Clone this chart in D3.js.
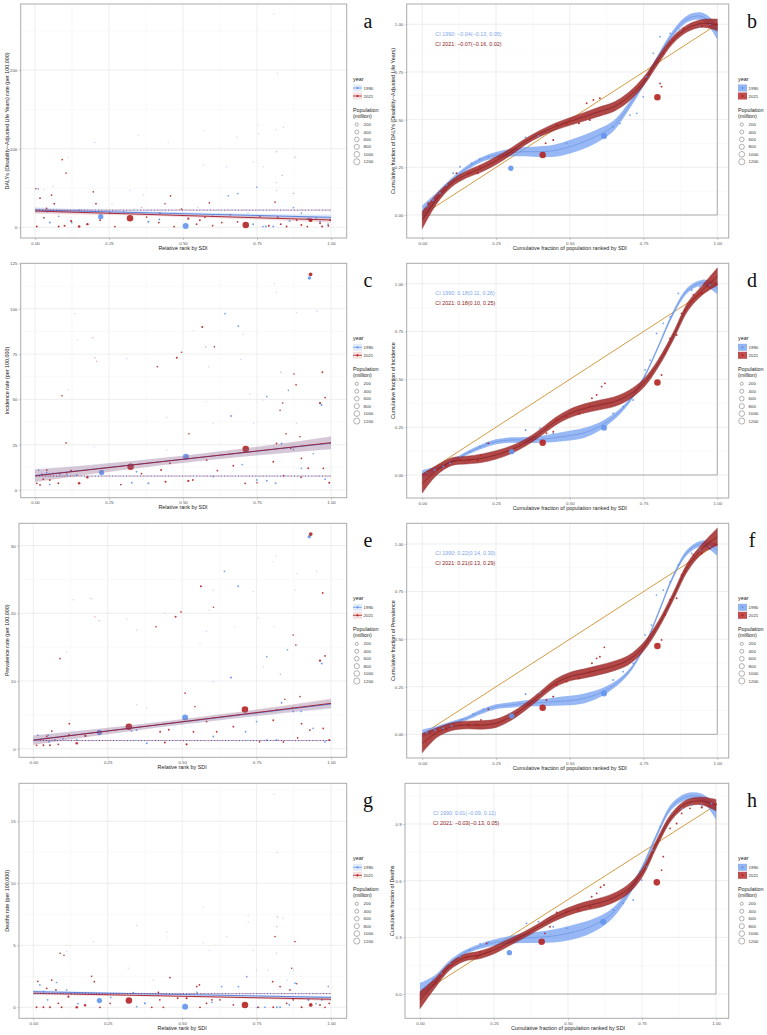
<!DOCTYPE html>
<html><head><meta charset="utf-8">
<script src="https://cdn.jsdelivr.net/npm/d3@7"></script>
<style>body{margin:0;background:#fff}svg{display:block}</style>
</head><body>
<svg id="c" width="767" height="1035"></svg>
<script>
// ---------------- DATA ----------------
const years = ["1990", "2021"];
const popLegend = [200, 400, 600, 800, 1000, 1200];
const rankTicks = [0, 0.25, 0.5, 0.75, 1];
const dalyTicks = [0, 100, 200];
const incTicks = [0, 25, 50, 75, 100, 125];
const prevTicks = [0, 10, 20, 30];
const deathTicks = [0, 5, 10, 15];
const concTicks = [0, 0.25, 0.5, 0.75, 1];
const concTicksH = [0, 0.3, 0.6, 0.9];

// [relative rank, rate, population (million)]
const dalys1990 = [[0.222,13.5,870],[0.509,1.7,1150],[0.011,49,20],[0.05,6,40],[0.124,6,30],[0.383,7,60],[0.685,43,20],[0.749,51,15],[0.755,130,5],[0.755,119,5],[0.816,57,10],[0.816,47,10],[0.813,124,5],[0.805,1,30],[0.78,1,25],[0.77,1,20],[0.923,11,60],[0.963,7,40],[0.99,4,20],[0.873,25,15],[0.737,4,40],[0.653,40,15],[0.366,41,10],[0.32,47,8],[0.203,108,5],[0.349,117,5],[0.45,108,5],[0.574,123,5],[0.681,115,5],[0.839,127,5],[0.113,89,5],[0.569,79,5],[0.647,77,5],[0.737,83,5],[0.771,77,5],[0.807,271,5],[0.819,196,5],[0.04,20,30],[0.08,14,20],[0.15,22,15],[0.26,30,10],[0.3,20,15],[0.42,10,30],[0.55,25,10],[0.6,14,20],[0.72,18,10],[0.86,8,30],[0.9,18,15],[0.95,12,20],[0.03,48,8],[0.06,52,8]];
const dalys2021 = [[0.321,11.4,1400],[0.712,3,1420],[0.092,86,15],[0.105,69,15],[0.056,41,20],[0.197,45,15],[0.206,30,20],[0.458,40,20],[0.418,6,30],[0.574,13,25],[0.589,31,15],[0.557,9,30],[0.811,32,15],[0.816,96,10],[0.82,13,30],[0.878,89,10],[0.873,43,10],[0.931,9,330],[0.149,1,100],[0.177,4,80],[0.122,8,60],[0.065,30,20],[0.039,24,25],[0.006,1,30],[0.003,49,15],[0.017,37,20],[0.495,23,20],[0.518,11,60],[0.546,4,25],[0.631,6,25],[0.684,7,25],[0.884,9,20],[0.9,3,30],[0.963,5,30],[0.991,2,25],[0.997,9,20],[0.377,13,20],[0.422,18,15],[0.439,30,15],[0.22,9,20],[0.253,18,15],[0.1,2,40],[0.03,12,30],[0.08,1,30],[0.27,1,20],[0.47,1,20],[0.6,2,20],[0.79,2,40],[0.83,4,30],[0.85,1,25],[0.92,1,20],[0.97,1,40],[0.76,14,15],[0.66,16,15],[0.36,25,10],[0.835,66,8]];
const inc1990 = [[0.225,9.7,870],[0.51,18.4,1150],[0.927,117,250],[0.642,97.4,20],[0.687,90.4,25],[0.662,40.8,40],[0.968,46.9,40],[0.952,98.7,10],[0.783,51.5,15],[0.856,55,15],[0.833,25.7,40],[0.873,22.4,20],[0.383,3.7,50],[0.343,10.1,30],[0.327,4,30],[0.602,7.4,30],[0.749,5.5,30],[0.783,5.1,30],[0.813,3.7,30],[0.012,11,20],[0.023,8.8,30],[0.039,9.6,30],[0.062,9.2,30],[0.084,8.8,25],[0.107,8.8,25],[0.141,8.3,25],[0.135,97.4,5],[0.144,83,5],[0.31,72.6,5],[0.417,68,5],[0.535,88,5],[0.586,68,5],[0.704,86,5],[0.726,53,5],[0.771,49.6,5],[0.809,114,5],[0.816,109,5],[0.884,98,5],[0.695,72,5],[0.578,48.7,5],[0.445,40,5],[0.113,55.5,5],[0.2,24,5],[0.445,22,5],[0.602,36.8,5],[0.738,36.8,5],[0.884,36.8,5],[0.9,12,20],[0.94,20,15],[0.98,6,20],[0.7,14,15],[0.05,3,20]];
const inc2021 = [[0.323,12.9,1400],[0.712,22.6,1420],[0.931,119,330],[0.565,90,40],[0.479,73,40],[0.495,76,15],[0.091,52,15],[0.105,26,15],[0.195,84,10],[0.203,73,10],[0.208,71,10],[0.413,68,15],[0.606,79,15],[0.577,79,10],[0.963,48,60],[0.971,65,25],[0.98,51,20],[0.875,64,15],[0.882,58,15],[0.837,48,15],[0.828,44,15],[0.848,31,15],[0.518,5,60],[0.149,3.7,100],[0.177,7,80],[0.122,10.5,60],[0.441,4.6,40],[0.426,11,30],[0.456,14.7,30],[0.533,5.5,25],[0.58,16.5,30],[0.616,10.7,25],[0.67,13.4,25],[0.71,3.7,25],[0.805,15.6,25],[0.816,25.7,20],[0.864,23,20],[0.895,29.4,15],[0.9,17.5,20],[0.923,12,30],[0.974,12,20],[0.994,4,40],[0.899,7,25],[0.006,3.7,20],[0.028,6,30],[0.05,5.5,30],[0.079,3.7,30],[0.017,2.8,25],[0.04,11,25],[0.29,3,20],[0.36,9,20],[0.52,31,15],[0.83,65,10],[0.84,8,20],[0.75,4,15]];
const prev1990 = [[0.222,2.4,870],[0.51,4.6,1150],[0.927,31.3,250],[0.642,26.2,20],[0.688,24,25],[0.664,10.5,40],[0.969,12.6,40],[0.952,26.2,10],[0.784,13.6,15],[0.854,14.6,15],[0.834,6.8,40],[0.873,5.5,20],[0.381,0.8,50],[0.347,2.75,30],[0.33,2.6,30],[0.605,1.8,30],[0.713,2.5,30],[0.75,4,25],[0.784,1.3,30],[0.817,1.3,30],[0.015,2,20],[0.05,2,30],[0.073,1.3,30],[0.1,1.5,25],[0.146,1.3,25],[0.053,1,25],[0.134,22,5],[0.112,14.3,5],[0.314,19.1,5],[0.347,17.5,5],[0.442,20,5],[0.582,17.3,5],[0.591,20.5,5],[0.677,18,5],[0.739,23.2,5],[0.756,19.3,5],[0.773,12.1,5],[0.806,27.6,5],[0.817,28.5,5],[0.81,18,5],[0.885,25.9,5],[0.879,23.4,5],[0.605,23.4,5],[0.56,15.6,5],[0.347,6.5,5],[0.381,6,5],[0.605,9.9,5],[0.9,5.5,20],[0.94,3,15],[0.98,1,20]];
const prev2021 = [[0.321,3.25,1400],[0.711,5.8,1420],[0.932,31.7,330],[0.563,24,40],[0.478,19.5,40],[0.496,20.2,15],[0.09,13.3,15],[0.194,22.2,10],[0.207,19.5,10],[0.221,18.9,10],[0.412,18,15],[0.605,20.9,15],[0.963,13,60],[0.972,23,25],[0.98,13.7,20],[0.873,16.8,15],[0.882,15.3,15],[0.845,7.3,15],[0.515,0.64,60],[0.146,0.8,100],[0.175,1.9,80],[0.12,2,60],[0.442,0.9,40],[0.426,2.5,30],[0.455,2.8,30],[0.538,2.5,25],[0.582,4,30],[0.616,2.5,25],[0.672,3.25,25],[0.806,4.2,25],[0.817,5.7,20],[0.87,6,20],[0.896,7.7,15],[0.901,3.7,20],[0.929,2.75,30],[0.974,3,20],[0.994,1.3,40],[0.888,1.6,25],[0.011,0.5,20],[0.034,0.5,30],[0.056,0.5,30],[0.084,0.64,30],[0.045,1.8,25],[0.062,2.6,25],[0.121,3.7,20],[0.51,8.2,15],[0.543,6.2,15],[0.83,11,10],[0.84,1,20],[0.76,1,15]];
const deaths1990 = [[0.222,0.54,870],[0.51,0.05,1150],[0.048,0.6,30],[0.078,2,20],[0.112,1.4,20],[0.022,1.8,20],[0.034,1.26,25],[0.375,0.32,50],[0.336,1.18,30],[0.717,2.47,20],[0.689,1.67,20],[0.633,1.67,20],[0.818,0,30],[0.829,0,30],[0.778,0,25],[0.753,0,25],[0.924,0.6,60],[0.879,1.94,20],[0.969,0.6,40],[0.991,1.67,15],[0.789,3,10],[0.817,4.35,10],[0.808,17.2,5],[0.82,12.5,5],[0.202,5.3,5],[0.112,4.5,5],[0.319,3.15,5],[0.347,6.6,5],[0.448,6.1,5],[0.448,5.6,5],[0.571,8.1,5],[0.571,5.2,5],[0.593,4.6,5],[0.65,5.7,5],[0.722,7.4,5],[0.722,6.9,5],[0.739,4.6,5],[0.75,3,5],[0.84,7.2,5],[0.853,2.2,10],[0.873,3,10],[0.347,0.05,20],[0.403,2.2,10],[0.15,0.3,30],[0.26,0.8,20],[0.55,1.2,20],[0.6,0.4,25],[0.86,0.2,30],[0.95,0.3,20]];
const deaths2021 = [[0.321,0.54,1400],[0.711,0.19,1420],[0.09,4.35,15],[0.103,4.2,15],[0.205,2.07,20],[0.196,2.5,15],[0.459,2.4,25],[0.42,1.2,20],[0.425,0.6,25],[0.485,0.73,30],[0.515,0.73,60],[0.549,1.67,20],[0.558,1.8,20],[0.6,0.6,25],[0.812,5.7,15],[0.818,6.5,10],[0.879,5.3,15],[0.82,7.3,8],[0.804,2.07,20],[0.868,3.15,15],[0.932,0.19,330],[0.146,0,100],[0.174,0.16,80],[0.118,0.86,60],[0.015,2.1,20],[0.045,1.53,25],[0.062,2.2,20],[0.076,1.4,25],[0.084,0.32,30],[0.011,0,30],[0.034,0,30],[0.056,0,30],[0.095,0,30],[0.224,0,25],[0.258,0.32,20],[0.398,0,25],[0.437,0,25],[0.56,0,25],[0.582,0.32,25],[0.627,0.6,20],[0.672,0.2,25],[0.756,0,20],[0.806,0,30],[0.851,0.32,30],[0.873,0.6,25],[0.901,0,30],[0.963,0.19,30],[0.994,0.32,30],[0.98,0,20],[0.829,1.67,20],[0.862,1.4,20],[0.885,1.9,15]];

// regression fits: [value at rank 0, value at rank 1, CI half-width at ends, CI half-width at middle]
const dalysFit1990 = [22, 12.7, 3.5, 1.8], dalysFit2021 = [20.7, 9.3, 3.5, 1.8], dalysRef = 21.9;
const incFit1990 = [8.0, 25.9, 3.5, 2.0], incFit2021 = [7.8, 26.1, 3.5, 2.0], incRef = 7.7;
const prevFit1990 = [1.3, 6.6, 0.7, 0.4], prevFit2021 = [1.25, 6.7, 0.7, 0.4], prevRef = 1.2;
const deathsFit1990 = [1.26, 0.8, 0.12, 0.06], deathsFit2021 = [1.13, 0.65, 0.14, 0.07], deathsRef = 1.1;

// concentration curves: fitted values at concX
const concX = [0,0.05,0.1,0.15,0.2,0.25,0.3,0.35,0.4,0.45,0.5,0.55,0.6,0.65,0.7,0.75,0.8,0.85,0.9,0.95,1];
const dalysCurve1990 = [0.01,0.096,0.18,0.245,0.29,0.315,0.327,0.332,0.332,0.338,0.358,0.385,0.42,0.47,0.57,0.69,0.83,0.953,1.03,1.04,0.96];
const dalysBand1990 = [0.04,0.025,0.015,0.012,0.013,0.016,0.02,0.024,0.028,0.032,0.035,0.036,0.033,0.027,0.02,0.015,0.014,0.016,0.018,0.02,0.04];
const dalysCurve2021 = [-0.026,0.087,0.166,0.213,0.245,0.285,0.332,0.385,0.428,0.463,0.49,0.516,0.542,0.568,0.62,0.7,0.813,0.918,0.98,1.005,0.997];
const dalysBand2021 = [0.045,0.025,0.018,0.018,0.02,0.02,0.018,0.016,0.016,0.018,0.02,0.022,0.024,0.024,0.024,0.022,0.02,0.018,0.018,0.02,0.03];
const incCurve1990 = [0.005,0.035,0.07,0.113,0.148,0.174,0.183,0.183,0.186,0.195,0.206,0.221,0.253,0.305,0.383,0.505,0.671,0.845,0.967,1.005,0.976];
const incBand1990 = [0.02,0.012,0.01,0.01,0.012,0.013,0.014,0.016,0.018,0.022,0.025,0.026,0.022,0.016,0.012,0.01,0.01,0.012,0.014,0.016,0.03];
const incCurve2021 = [-0.044,0.026,0.07,0.078,0.087,0.105,0.131,0.169,0.221,0.279,0.322,0.348,0.366,0.383,0.418,0.479,0.584,0.723,0.88,0.967,1.037];
const incBand2021 = [0.05,0.025,0.02,0.02,0.022,0.022,0.02,0.018,0.018,0.02,0.022,0.024,0.025,0.025,0.024,0.022,0.02,0.02,0.022,0.025,0.045];
const prevCurve1990 = [0.005,0.032,0.058,0.084,0.119,0.145,0.154,0.163,0.166,0.172,0.177,0.189,0.215,0.259,0.329,0.452,0.636,0.828,0.96,1.003,0.968];
const prevBand1990 = [0.02,0.012,0.01,0.01,0.012,0.013,0.014,0.016,0.018,0.022,0.025,0.026,0.022,0.016,0.012,0.01,0.01,0.012,0.014,0.016,0.03];
const prevCurve2021 = [-0.047,0.009,0.04,0.049,0.049,0.058,0.093,0.145,0.207,0.268,0.303,0.32,0.338,0.359,0.391,0.46,0.574,0.723,0.881,0.977,1.038];
const prevBand2021 = [0.05,0.025,0.02,0.02,0.022,0.022,0.02,0.018,0.018,0.02,0.022,0.024,0.025,0.025,0.024,0.022,0.02,0.02,0.022,0.025,0.045];
const deathsCurve1990 = [0.018,0.074,0.162,0.219,0.251,0.272,0.286,0.295,0.3,0.307,0.321,0.342,0.374,0.427,0.524,0.665,0.842,0.992,1.045,1.041,0.965];
const deathsBand1990 = [0.04,0.025,0.015,0.012,0.013,0.016,0.02,0.025,0.03,0.035,0.038,0.038,0.034,0.027,0.02,0.015,0.014,0.016,0.018,0.02,0.04];
const deathsCurve2021 = [-0.032,0.056,0.145,0.192,0.206,0.233,0.272,0.312,0.356,0.401,0.436,0.462,0.48,0.506,0.551,0.639,0.798,0.939,1.009,1.022,1.0];
const deathsBand2021 = [0.045,0.025,0.018,0.018,0.02,0.02,0.018,0.016,0.016,0.018,0.02,0.022,0.024,0.024,0.024,0.022,0.02,0.018,0.018,0.02,0.03];

// concentration points: [cumulative population fraction, cumulative burden fraction, population]
const dalysConc1990 = [[0.3,0.245,870],[0.616,0.414,1150],[0.015,0.044,40],[0.037,0.079,40],[0.06,0.114,40],[0.082,0.157,30],[0.105,0.219,30],[0.128,0.253,30],[0.167,0.271,30],[0.195,0.294,25],[0.224,0.306,25],[0.35,0.407,30],[0.393,0.414,30],[0.444,0.393,25],[0.489,0.376,25],[0.647,0.463,30],[0.67,0.48,25],[0.704,0.524,25],[0.727,0.533,25],[0.749,0.62,20],[0.76,0.725,20],[0.783,0.848,20],[0.806,0.935,20],[0.84,0.953,20],[0.873,0.97,20],[0.907,0.988,25],[0.941,0.988,20],[0.975,0.997,20]];
const dalysConc2021 = [[0.408,0.315,1400],[0.797,0.617,1420],[0.02,0.061,40],[0.049,0.087,40],[0.077,0.131,40],[0.116,0.219,40],[0.157,0.219,80],[0.188,0.219,60],[0.195,0.253,30],[0.418,0.376,30],[0.444,0.393,30],[0.455,0.472,40],[0.489,0.477,40],[0.531,0.481,50],[0.568,0.498,40],[0.557,0.586,30],[0.58,0.603,30],[0.602,0.612,30],[0.806,0.69,30],[0.811,0.673,30],[0.817,0.848,25],[0.84,0.9,30],[0.851,0.918,30],[0.885,0.979,30],[0.907,0.988,30],[0.947,0.991,60],[0.975,0.991,40],[0.998,1.0,40]];
const incConc1990 = [[0.303,0.122,870],[0.616,0.247,1150],[0.015,0.009,40],[0.043,0.026,40],[0.071,0.044,40],[0.094,0.061,30],[0.128,0.096,30],[0.162,0.122,30],[0.195,0.148,30],[0.218,0.166,25],[0.35,0.235,30],[0.399,0.244,30],[0.444,0.218,25],[0.647,0.322,30],[0.681,0.357,25],[0.715,0.392,25],[0.755,0.549,20],[0.772,0.601,20],[0.794,0.74,20],[0.817,0.793,20],[0.84,0.827,20],[0.868,0.949,20],[0.913,0.967,25],[0.941,0.984,20],[0.975,0.993,20]];
const incConc2021 = [[0.408,0.169,1400],[0.797,0.484,1420],[0.015,0.005,40],[0.049,0.026,40],[0.082,0.044,40],[0.128,0.078,40],[0.157,0.078,80],[0.188,0.078,60],[0.199,0.105,30],[0.224,0.166,30],[0.421,0.218,30],[0.444,0.226,30],[0.455,0.287,40],[0.489,0.305,40],[0.531,0.322,50],[0.568,0.361,40],[0.575,0.401,30],[0.591,0.418,30],[0.608,0.462,30],[0.619,0.479,30],[0.811,0.523,30],[0.823,0.636,30],[0.84,0.714,30],[0.862,0.732,30],[0.879,0.845,30],[0.89,0.862,30],[0.919,0.941,30],[0.947,0.949,60],[0.975,0.981,40],[0.995,0.998,40]];
const prevConc1990 = [[0.303,0.096,870],[0.616,0.215,1150],[0.015,0.009,40],[0.043,0.023,40],[0.071,0.032,40],[0.099,0.044,30],[0.133,0.075,30],[0.173,0.107,30],[0.207,0.131,30],[0.224,0.137,25],[0.35,0.212,30],[0.399,0.219,30],[0.444,0.198,25],[0.647,0.285,30],[0.681,0.329,25],[0.715,0.373,25],[0.755,0.522,20],[0.777,0.574,20],[0.794,0.732,20],[0.817,0.758,20],[0.84,0.802,20],[0.868,0.89,20],[0.913,0.951,25],[0.941,0.968,20],[0.975,0.986,20]];
const prevConc2021 = [[0.408,0.14,1400],[0.797,0.464,1420],[0.026,0.009,40],[0.054,0.019,40],[0.082,0.026,40],[0.128,0.049,40],[0.157,0.049,80],[0.188,0.049,60],[0.199,0.075,30],[0.224,0.131,30],[0.421,0.18,30],[0.444,0.198,30],[0.455,0.259,40],[0.489,0.277,40],[0.531,0.294,50],[0.568,0.329,40],[0.575,0.373,30],[0.591,0.399,30],[0.602,0.408,30],[0.617,0.457,30],[0.811,0.496,30],[0.823,0.627,30],[0.84,0.706,30],[0.862,0.715,30],[0.879,0.837,30],[0.89,0.855,30],[0.919,0.942,30],[0.947,0.951,60],[0.975,0.977,40],[0.995,0.998,40]];
const deathsConc1990 = [[0.302,0.219,870],[0.619,0.383,1150],[0.017,0.039,40],[0.045,0.078,40],[0.073,0.109,40],[0.101,0.162,30],[0.135,0.198,30],[0.169,0.233,30],[0.203,0.265,25],[0.231,0.274,25],[0.36,0.374,30],[0.4,0.383,30],[0.45,0.356,25],[0.495,0.348,25],[0.653,0.445,30],[0.687,0.48,25],[0.72,0.498,25],[0.749,0.603,20],[0.766,0.674,20],[0.786,0.762,20],[0.811,0.886,20],[0.85,0.956,20],[0.884,0.983,20],[0.918,1.0,25],[0.952,1.0,20],[0.985,1.009,20]];
const deathsConc2021 = [[0.411,0.277,1400],[0.8,0.591,1420],[0.023,0.03,40],[0.051,0.056,40],[0.079,0.109,40],[0.107,0.154,40],[0.158,0.194,80],[0.191,0.198,60],[0.203,0.224,30],[0.225,0.268,30],[0.422,0.321,30],[0.439,0.356,30],[0.462,0.431,40],[0.495,0.436,40],[0.535,0.445,50],[0.574,0.462,40],[0.58,0.515,30],[0.597,0.533,30],[0.61,0.565,30],[0.622,0.577,30],[0.816,0.656,30],[0.822,0.727,30],[0.845,0.877,30],[0.867,0.903,30],[0.884,0.956,30],[0.912,0.983,30],[0.952,0.988,60],[0.98,0.997,40],[1.0,1.004,40]];

const ciDalys = ["CI 1990:  \u22120.04(\u22120.13, 0.05)", "CI 2021:  \u22120.07(\u22120.16, 0.02)"];
const ciInc = ["CI 1990:  0.18(0.11, 0.26)", "CI 2021:  0.18(0.10, 0.25)"];
const ciPrev = ["CI 1990:  0.22(0.14, 0.30)", "CI 2021:  0.21(0.13, 0.29)"];
const ciDeaths = ["CI 1990:  0.01(\u22120.09, 0.11)", "CI 2021:  \u22120.03(\u22120.13, 0.05)"];

// ---------------- DRAWING ----------------
const svg = d3.select('#c');
const FONT = '"Liberation Sans", Arial, sans-serif';
const C90 = '#6495ED', C21 = '#B22222';
const rPop = d3.scaleSqrt().domain([0, 1400]).range([0, 2.7]);
const rPt = p => 0.55 + rPop(p);
let clipN = 0;

function frame(o) {
  const g = svg.append('g');
  g.append('rect').attr('x', o.l).attr('y', o.t).attr('width', o.r - o.l).attr('height', o.b - o.t).attr('fill', '#fff');
  const inY = v => { const p = o.y(v); return p >= o.t && p <= o.b; };
  const inX = v => { const p = o.x(v); return p >= o.l && p <= o.r; };
  const minorX = o.xt.slice(1).map((v, i) => (v + o.xt[i]) / 2);
  const stepY = o.yt[1] - o.yt[0];
  const minorY = o.yt.map(v => v + stepY / 2).concat([o.yt[0] - stepY / 2]).filter(inY);
  g.selectAll(null).data(minorX.filter(inX)).join('line').attr('x1', d => o.x(d)).attr('x2', d => o.x(d)).attr('y1', o.t).attr('y2', o.b).attr('stroke', '#F2F2F2').attr('stroke-width', 0.5);
  g.selectAll(null).data(minorY).join('line').attr('y1', d => o.y(d)).attr('y2', d => o.y(d)).attr('x1', o.l).attr('x2', o.r).attr('stroke', '#F2F2F2').attr('stroke-width', 0.5);
  g.selectAll(null).data(o.xt).join('line').attr('x1', d => o.x(d)).attr('x2', d => o.x(d)).attr('y1', o.t).attr('y2', o.b).attr('stroke', '#E6E6E6').attr('stroke-width', 0.7);
  g.selectAll(null).data(o.yt.filter(inY)).join('line').attr('y1', d => o.y(d)).attr('y2', d => o.y(d)).attr('x1', o.l).attr('x2', o.r).attr('stroke', '#E6E6E6').attr('stroke-width', 0.7);
  const id = 'clip' + (clipN++);
  svg.append('clipPath').attr('id', id).append('rect').attr('x', o.l).attr('y', o.t).attr('width', o.r - o.l).attr('height', o.b - o.t);
  const inner = g.append('g').attr('clip-path', `url(#${id})`);
  return { g, inner };
}

function finish(g, o) {
  g.append('rect').attr('x', o.l).attr('y', o.t).attr('width', o.r - o.l).attr('height', o.b - o.t).attr('fill', 'none').attr('stroke', '#ABABAB').attr('stroke-width', 1);
  const style = s => {
    s.select('.domain').remove();
    s.selectAll('line').attr('stroke', '#9A9A9A').attr('stroke-width', 0.5);
    s.selectAll('text').attr('font-size', 4.4).attr('fill', '#555').attr('font-family', FONT);
  };
  g.append('g').attr('transform', `translate(0,${o.b})`).call(d3.axisBottom(o.x).tickValues(o.xt).tickFormat(d3.format('.2f')).tickSize(2).tickPadding(1.6)).call(style);
  g.append('g').attr('transform', `translate(${o.l},0)`).call(d3.axisLeft(o.y).tickValues(o.yt).tickFormat(o.yf).tickSize(2).tickPadding(1.4)).call(style);
  g.append('text').attr('x', (o.x(0) + o.x(1)) / 2).attr('y', o.b + 11.5).attr('text-anchor', 'middle').attr('font-size', 5.4).attr('fill', '#222').attr('font-family', FONT).text(o.xTitle);
  g.append('text').attr('transform', `translate(${o.ytx},${(o.t + o.b) / 2}) rotate(-90)`).attr('text-anchor', 'middle').attr('dominant-baseline', 'middle').attr('font-size', 5.4).attr('fill', '#222').attr('font-family', FONT).text(o.yTitle);
  g.append('text').attr('x', o.letterX).attr('y', o.t + 24).attr('text-anchor', 'middle').attr('font-size', 20).attr('fill', '#111').attr('font-family', '"Liberation Serif", "Times New Roman", serif').text(o.letter);
}

function legend(kx, top, conc) {
  const g = svg.append('g').attr('font-family', FONT);
  g.append('text').attr('x', kx).attr('y', top + 77).attr('font-size', 5.4).attr('fill', '#222').text('year');
  years.forEach((yr, i) => {
    const ky = top + 84 + i * 8;
    const col = i ? C21 : C90;
    if (conc) {
      g.append('rect').attr('x', kx).attr('y', ky - 3.5).attr('width', 9).attr('height', 7).attr('fill', col).attr('opacity', i ? 0.8 : 0.7);
      g.append('circle').attr('cx', kx + 4.5).attr('cy', ky).attr('r', 1.1).attr('fill', col);
    } else {
      g.append('rect').attr('x', kx).attr('y', ky - 3.5).attr('width', 9).attr('height', 7).attr('fill', i ? '#F3DADA' : '#DCE6F8').attr('opacity', 0.8);
      g.append('line').attr('x1', kx).attr('x2', kx + 9).attr('y1', ky).attr('y2', ky).attr('stroke', col).attr('stroke-width', 0.8);
      g.append('circle').attr('cx', kx + 4.5).attr('cy', ky).attr('r', 1.1).attr('fill', col);
    }
    g.append('text').attr('x', kx + 10.5).attr('y', ky + 1.6).attr('font-size', 4.4).attr('fill', '#333').text(yr);
  });
  g.append('text').attr('x', kx).attr('y', top + 108).attr('font-size', 5.4).attr('fill', '#222').text('Population');
  g.append('text').attr('x', kx).attr('y', top + 114).attr('font-size', 5.4).attr('fill', '#222').text('(million)');
  popLegend.forEach((p, i) => {
    const cy = top + 120.5 + i * 7.45;
    g.append('circle').attr('cx', kx + 3.8).attr('cy', cy).attr('r', rPt(p)).attr('fill', 'none').attr('stroke', '#666').attr('stroke-width', 0.5);
    g.append('text').attr('x', kx + 10.5).attr('y', cy + 1.6).attr('font-size', 4.4).attr('fill', '#333').text(p);
  });
}

function points(inner, o, data, col) {
  inner.selectAll(null).data(data).join('circle')
    .attr('cx', d => o.x(d[0])).attr('cy', d => o.y(d[1])).attr('r', d => rPt(d[2]))
    .attr('fill', col).attr('opacity', d => d[2] >= 15 ? 0.9 : 0.35);
}

function scatterPanel(o) {
  const { g, inner } = frame(o);
  points(inner, o, o.p90, C90);
  points(inner, o, o.p21, C21);
  const xs = d3.range(0, 1.0001, 0.05);
  const fitVal = (f, t) => f[0] + (f[1] - f[0]) * t;
  const hw = (f, t) => f[3] + (f[2] - f[3]) * Math.pow(2 * t - 1, 2);
  [[o.f90, C90, 0.22], [o.f21, C21, 0.16]].forEach(([f, col, op]) => {
    inner.append('path').datum(xs).attr('fill', col).attr('opacity', op)
      .attr('d', d3.area().x(t => o.x(t)).y0(t => o.y(fitVal(f, t) - hw(f, t))).y1(t => o.y(fitVal(f, t) + hw(f, t))));
  });
  [[o.f90, '#4D78DA'], [o.f21, '#A0182A']].forEach(([f, col]) => {
    inner.append('line').attr('x1', o.x(0)).attr('x2', o.x(1)).attr('y1', o.y(f[0])).attr('y2', o.y(f[1])).attr('stroke', col).attr('stroke-width', 0.9);
  });
  inner.append('line').attr('x1', o.x(0)).attr('x2', o.x(1)).attr('y1', o.y(o.ref)).attr('y2', o.y(o.ref)).attr('stroke', C90).attr('stroke-width', 1).attr('stroke-dasharray', '0.9 1.9');
  inner.append('line').attr('x1', o.x(0)).attr('x2', o.x(1)).attr('y1', o.y(o.ref)).attr('y2', o.y(o.ref)).attr('stroke', '#8E1B3A').attr('stroke-width', 1).attr('stroke-dasharray', '0.9 1.9').attr('stroke-dashoffset', 1.4);
  finish(g, o);
}

function concPanel(o) {
  const { g, inner } = frame(o);
  inner.append('line').attr('x1', o.x(0)).attr('x2', o.x(1)).attr('y1', o.y(0)).attr('y2', o.y(0)).attr('stroke', '#9C9C9C').attr('stroke-width', 0.8);
  inner.append('line').attr('x1', o.x(1)).attr('x2', o.x(1)).attr('y1', o.y(0)).attr('y2', o.y(1)).attr('stroke', '#9C9C9C').attr('stroke-width', 0.8);
  inner.append('line').attr('x1', o.x(0)).attr('x2', o.x(1)).attr('y1', o.y(0)).attr('y2', o.y(1)).attr('stroke', '#D0902C').attr('stroke-width', 0.9);
  const idx = d3.range(concX.length);
  const curve = d3.curveCatmullRom.alpha(0.5);
  [[o.c90, o.w90, '#6F9DF0', 0.72, 'none', '#5B86DD'], [o.c21, o.w21, '#A42828', 0.85, '#7E1616', '#6E1010']].forEach(([c, w, fill, op, edge, mid]) => {
    inner.append('path').datum(idx).attr('fill', fill).attr('opacity', op).attr('stroke', edge).attr('stroke-width', 0.5)
      .attr('d', d3.area().curve(curve).x(i => o.x(concX[i])).y0(i => o.y(c[i] - w[i])).y1(i => o.y(c[i] + w[i])));
    inner.append('path').datum(idx).attr('fill', 'none').attr('stroke', mid).attr('stroke-width', 0.5)
      .attr('d', d3.line().curve(curve).x(i => o.x(concX[i])).y(i => o.y(c[i])));
  });
  points(inner, o, o.p90, C90);
  points(inner, o, o.p21, C21);
  g.append('text').attr('x', o.x(0) + 13).attr('y', o.t + 32).attr('font-size', 5.4).attr('fill', '#7EA6EA').attr('font-family', FONT).text(o.ci[0]);
  g.append('text').attr('x', o.x(0) + 13).attr('y', o.t + 41.5).attr('font-size', 5.4).attr('fill', '#8B1A1A').attr('font-family', FONT).text(o.ci[1]);
  finish(g, o);
}

const xTitleL = 'Relative rank by SDI', xTitleR = 'Cumulative fraction of population ranked by SDI';
const fmt0 = d3.format('d'), fmt2 = d3.format('.2f'), fmt1 = d3.format('.1f');
const lin = (v0, p0, v1, p1) => d3.scaleLinear().domain([v0, v1]).range([p0, p1]);

scatterPanel({ l: 20.7, r: 346.7, t: 4, b: 238, x: lin(0, 35, 1, 331), y: lin(0, 227.3, 100, 148.7), xt: rankTicks, yt: dalyTicks, yf: fmt0,
  xTitle: xTitleL, yTitle: 'DALYs (Disability\u2212Adjusted Life Years) rate (per 100,000)', ytx: 7.5, letter: 'a', letterX: 368,
  p90: dalys1990, p21: dalys2021, f90: dalysFit1990, f21: dalysFit2021, ref: dalysRef });
scatterPanel({ l: 20.7, r: 346.7, t: 263.3, b: 497.7, x: lin(0, 35, 1, 331), y: lin(0, 490, 25, 444.7), xt: rankTicks, yt: incTicks, yf: fmt0,
  xTitle: xTitleL, yTitle: 'Incidence rate (per 100,000)', ytx: 7.5, letter: 'c', letterX: 368,
  p90: inc1990, p21: inc2021, f90: incFit1990, f21: incFit2021, ref: incRef });
scatterPanel({ l: 19, r: 346.7, t: 523.3, b: 757.3, x: lin(0, 33.3, 1, 331), y: lin(0, 748.7, 10, 681), xt: rankTicks, yt: prevTicks, yf: fmt0,
  xTitle: xTitleL, yTitle: 'Prevalence rate (per 100,000)', ytx: 7.5, letter: 'e', letterX: 368,
  p90: prev1990, p21: prev2021, f90: prevFit1990, f21: prevFit2021, ref: prevRef });
scatterPanel({ l: 19, r: 346.7, t: 783.3, b: 1018.3, x: lin(0, 33.3, 1, 331), y: lin(0, 1007.3, 5, 945.3), xt: rankTicks, yt: deathTicks, yf: fmt0,
  xTitle: xTitleL, yTitle: 'Deaths rate (per 100,000)', ytx: 7.5, letter: 'g', letterX: 368,
  p90: deaths1990, p21: deaths2021, f90: deathsFit1990, f21: deathsFit2021, ref: deathsRef });

concPanel({ l: 406.7, r: 728.7, t: 4, b: 238, x: lin(0, 422.3, 1, 717.3), y: lin(0, 215, 1, 24.3), xt: concTicks, yt: concTicks, yf: fmt2,
  xTitle: xTitleR, yTitle: 'Cumulative fraction of DALYs (Disability\u2212Adjusted Life Years)', ytx: 394, letter: 'b', letterX: 752,
  p90: dalysConc1990, p21: dalysConc2021, c90: dalysCurve1990, w90: dalysBand1990, c21: dalysCurve2021, w21: dalysBand2021, ci: ciDalys });
concPanel({ l: 406.7, r: 728.7, t: 263.3, b: 498, x: lin(0, 422.3, 1, 717.3), y: lin(0, 475, 1, 283.7), xt: concTicks, yt: concTicks, yf: fmt2,
  xTitle: xTitleR, yTitle: 'Cumulative fraction of Incidence', ytx: 394, letter: 'd', letterX: 752,
  p90: incConc1990, p21: incConc2021, c90: incCurve1990, w90: incBand1990, c21: incCurve2021, w21: incBand2021, ci: ciInc });
concPanel({ l: 406.7, r: 728.7, t: 523.3, b: 758, x: lin(0, 422.3, 1, 717.3), y: lin(0, 734.3, 1, 544), xt: concTicks, yt: concTicks, yf: fmt2,
  xTitle: xTitleR, yTitle: 'Cumulative fraction of Prevalence', ytx: 394, letter: 'f', letterX: 752,
  p90: prevConc1990, p21: prevConc2021, c90: prevCurve1990, w90: prevBand1990, c21: prevCurve2021, w21: prevBand2021, ci: ciPrev });
concPanel({ l: 405, r: 728.7, t: 783.3, b: 1018.3, x: lin(0, 420, 1, 716), y: lin(0, 994, 0.9, 824), xt: concTicks, yt: concTicksH, yf: fmt1,
  xTitle: xTitleR, yTitle: 'Cumulative fraction of Deaths', ytx: 393, letter: 'h', letterX: 752,
  p90: deathsConc1990, p21: deathsConc2021, c90: deathsCurve1990, w90: deathsBand1990, c21: deathsCurve2021, w21: deathsBand2021, ci: ciDeaths });

[4, 263.3, 523.3, 783.3].forEach(t => { legend(353, t, false); legend(738, t, true); });
</script>
</body></html>
